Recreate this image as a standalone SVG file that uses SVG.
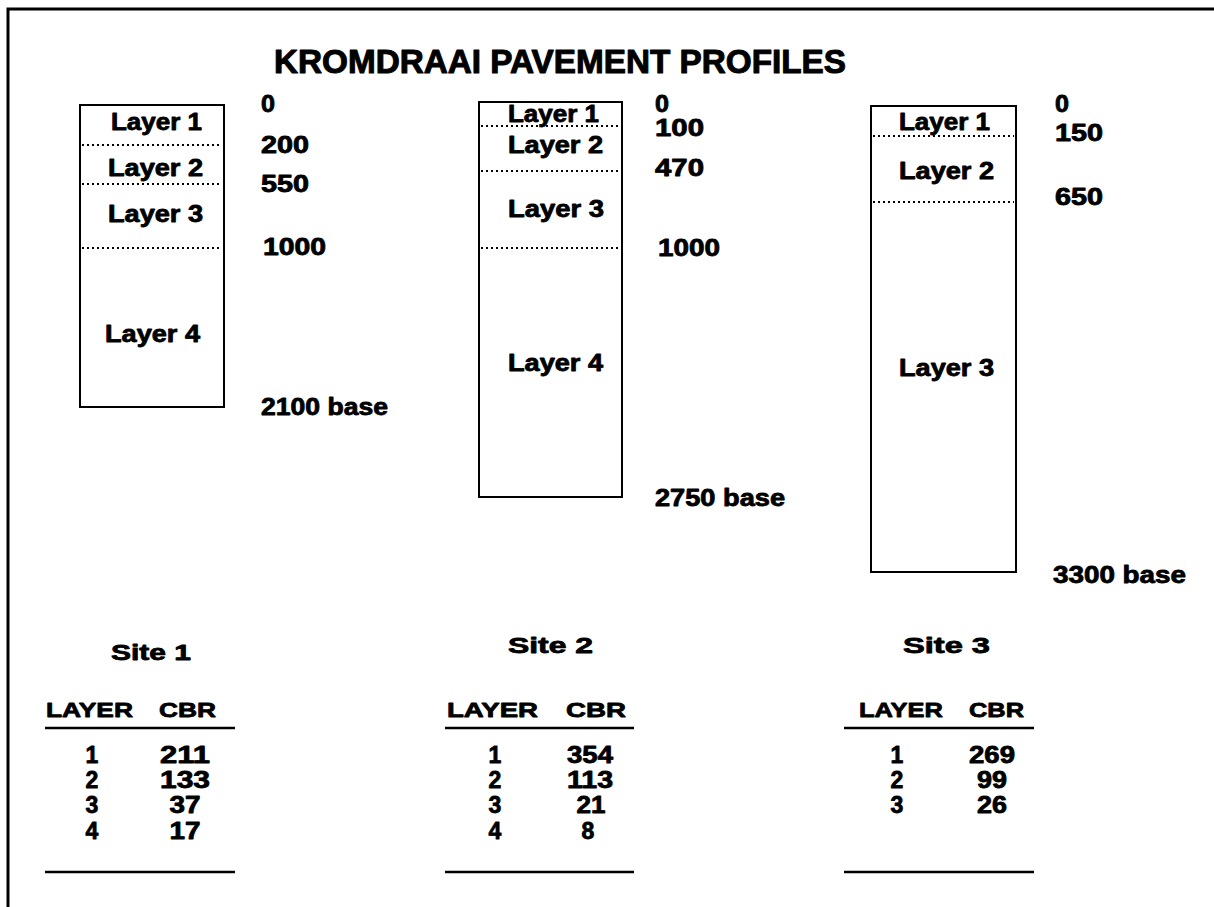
<svg xmlns="http://www.w3.org/2000/svg" width="1214" height="907" viewBox="0 0 1214 907">
<style>
text{font-family:"Liberation Sans",Arial,sans-serif;font-weight:bold;fill:#000;stroke:#000;stroke-width:0.8;stroke-linejoin:round}
.t{font-size:33px;stroke-width:1}
.l{font-size:23px}
.d{font-size:23px}
.h{font-size:22px}
.c{font-size:21px}
.r{font-size:23px;text-anchor:middle}
.box{fill:none;stroke:#000;stroke-width:2}
.dot{stroke:#000;stroke-width:2;stroke-dasharray:2 3;fill:none}
.rule{stroke:#000;stroke-width:2.5}
.frame{stroke:#000;stroke-width:3;fill:none}
</style>
<rect width="1214" height="907" fill="#fff"/>
<path class="frame" d="M8,907 V9 H1214"/>
<text id="title" class="t" x="274" y="73" textLength="572" lengthAdjust="spacingAndGlyphs">KROMDRAAI PAVEMENT PROFILES</text>

<g id="site1-profile">
<rect class="box" x="80" y="105" width="144" height="302"/>
<line class="dot" x1="82" y1="145" x2="222" y2="145"/>
<line class="dot" x1="82" y1="184" x2="222" y2="184"/>
<line class="dot" x1="82" y1="248" x2="222" y2="248"/>
<text class="l" x="111" y="130" textLength="91" lengthAdjust="spacingAndGlyphs">Layer 1</text>
<text class="l" x="108" y="176" textLength="95" lengthAdjust="spacingAndGlyphs">Layer 2</text>
<text class="l" x="108" y="222" textLength="95" lengthAdjust="spacingAndGlyphs">Layer 3</text>
<text class="l" x="105" y="342" textLength="95" lengthAdjust="spacingAndGlyphs">Layer 4</text>
<text class="d" x="261" y="112" textLength="14" lengthAdjust="spacingAndGlyphs">0</text>
<text class="d" x="261" y="153" textLength="48" lengthAdjust="spacingAndGlyphs">200</text>
<text class="d" x="261" y="192" textLength="48" lengthAdjust="spacingAndGlyphs">550</text>
<text class="d" x="263" y="255" textLength="63" lengthAdjust="spacingAndGlyphs">1000</text>
<text class="d" x="261" y="415" textLength="127" lengthAdjust="spacingAndGlyphs">2100 base</text>
</g>

<g id="site2-profile">
<rect class="box" x="479" y="102" width="143" height="395"/>
<line class="dot" x1="481" y1="126" x2="620" y2="126"/>
<line class="dot" x1="481" y1="171" x2="620" y2="171"/>
<line class="dot" x1="481" y1="248" x2="620" y2="248"/>
<text class="l" x="508" y="122" textLength="91" lengthAdjust="spacingAndGlyphs">Layer 1</text>
<text class="l" x="508" y="153" textLength="95" lengthAdjust="spacingAndGlyphs">Layer 2</text>
<text class="l" x="508" y="217" textLength="96" lengthAdjust="spacingAndGlyphs">Layer 3</text>
<text class="l" x="508" y="371" textLength="95" lengthAdjust="spacingAndGlyphs">Layer 4</text>
<text class="d" x="655" y="112" textLength="14" lengthAdjust="spacingAndGlyphs">0</text>
<text class="d" x="655" y="136" textLength="49" lengthAdjust="spacingAndGlyphs">100</text>
<text class="d" x="655" y="176" textLength="49" lengthAdjust="spacingAndGlyphs">470</text>
<text class="d" x="658" y="256" textLength="62" lengthAdjust="spacingAndGlyphs">1000</text>
<text class="d" x="655" y="506" textLength="130" lengthAdjust="spacingAndGlyphs">2750 base</text>
</g>

<g id="site3-profile">
<rect class="box" x="871" y="106" width="145" height="466"/>
<line class="dot" x1="873" y1="136" x2="1014" y2="136"/>
<line class="dot" x1="873" y1="202" x2="1014" y2="202"/>
<text class="l" x="899" y="130" textLength="91" lengthAdjust="spacingAndGlyphs">Layer 1</text>
<text class="l" x="899" y="179" textLength="95" lengthAdjust="spacingAndGlyphs">Layer 2</text>
<text class="l" x="899" y="376" textLength="95" lengthAdjust="spacingAndGlyphs">Layer 3</text>
<text class="d" x="1055" y="112" textLength="14" lengthAdjust="spacingAndGlyphs">0</text>
<text class="d" x="1055" y="141" textLength="48" lengthAdjust="spacingAndGlyphs">150</text>
<text class="d" x="1055" y="205" textLength="48" lengthAdjust="spacingAndGlyphs">650</text>
<text class="d" x="1053" y="583" textLength="133" lengthAdjust="spacingAndGlyphs">3300 base</text>
</g>

<g id="site1-table">
<text class="h" x="111" y="660" textLength="80" lengthAdjust="spacingAndGlyphs">Site 1</text>
<text class="c" x="46" y="717" textLength="87" lengthAdjust="spacingAndGlyphs">LAYER</text>
<text class="c" x="159" y="717" textLength="57" lengthAdjust="spacingAndGlyphs">CBR</text>
<line class="rule" x1="45" y1="728" x2="235" y2="728"/>
<text class="r" x="92" y="763">1</text><text class="r" x="185" y="763" textLength="50" lengthAdjust="spacingAndGlyphs">211</text>
<text class="r" x="92" y="788">2</text><text class="r" x="185" y="788" textLength="50" lengthAdjust="spacingAndGlyphs">133</text>
<text class="r" x="92" y="813">3</text><text class="r" x="185" y="813" textLength="31" lengthAdjust="spacingAndGlyphs">37</text>
<text class="r" x="92" y="839">4</text><text class="r" x="185" y="839" textLength="31" lengthAdjust="spacingAndGlyphs">17</text>
<line class="rule" x1="45" y1="872" x2="235" y2="872"/>
</g>

<g id="site2-table">
<text class="h" x="508" y="653" textLength="85" lengthAdjust="spacingAndGlyphs">Site 2</text>
<text class="c" x="447" y="717" textLength="91" lengthAdjust="spacingAndGlyphs">LAYER</text>
<text class="c" x="566" y="717" textLength="60" lengthAdjust="spacingAndGlyphs">CBR</text>
<line class="rule" x1="445" y1="728" x2="634" y2="728"/>
<text class="r" x="495" y="763">1</text><text class="r" x="590" y="763" textLength="46" lengthAdjust="spacingAndGlyphs">354</text>
<text class="r" x="495" y="788">2</text><text class="r" x="590" y="788" textLength="46" lengthAdjust="spacingAndGlyphs">113</text>
<text class="r" x="495" y="813">3</text><text class="r" x="591" y="813" textLength="29" lengthAdjust="spacingAndGlyphs">21</text>
<text class="r" x="495" y="839">4</text><text class="r" x="588" y="839">8</text>
<line class="rule" x1="445" y1="872" x2="634" y2="872"/>
</g>

<g id="site3-table">
<text class="h" x="903" y="653" textLength="87" lengthAdjust="spacingAndGlyphs">Site 3</text>
<text class="c" x="859" y="717" textLength="84" lengthAdjust="spacingAndGlyphs">LAYER</text>
<text class="c" x="969" y="717" textLength="55" lengthAdjust="spacingAndGlyphs">CBR</text>
<line class="rule" x1="844" y1="728" x2="1034" y2="728"/>
<text class="r" x="897" y="763">1</text><text class="r" x="992" y="763" textLength="46" lengthAdjust="spacingAndGlyphs">269</text>
<text class="r" x="897" y="788">2</text><text class="r" x="992" y="788" textLength="30" lengthAdjust="spacingAndGlyphs">99</text>
<text class="r" x="897" y="813">3</text><text class="r" x="992" y="813" textLength="30" lengthAdjust="spacingAndGlyphs">26</text>
<line class="rule" x1="844" y1="872" x2="1034" y2="872"/>
</g>

<g id="connectors"/>
</svg>
